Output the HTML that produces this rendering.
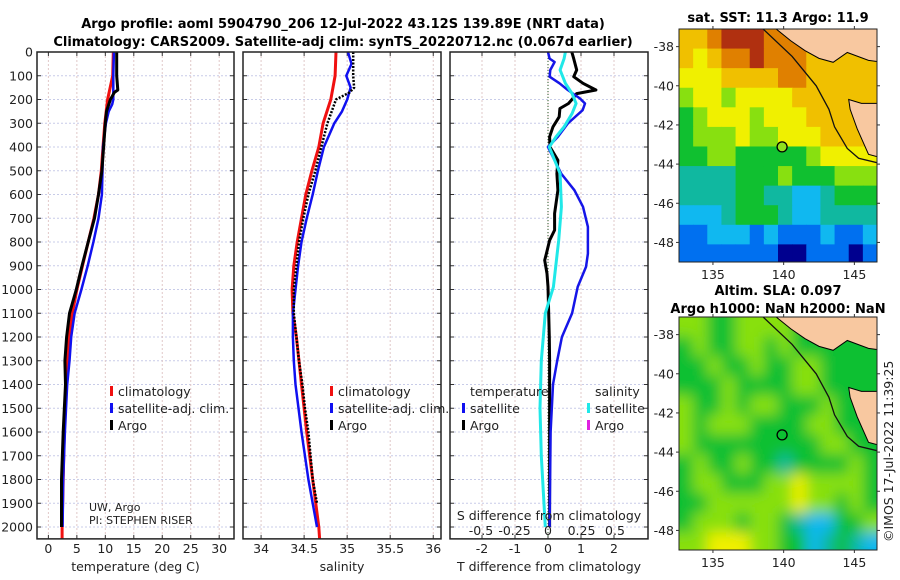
<!DOCTYPE html>
<html><head><meta charset="utf-8"><style>
body{margin:0;background:#fff;}
svg{display:block;font-family:"DejaVu Sans","Liberation Sans",sans-serif;}
</style></head><body>
<svg id="fig" width="900" height="580" viewBox="0 0 900 580" xmlns="http://www.w3.org/2000/svg">
<text x="343" y="28" font-size="13" font-weight="bold" text-anchor="middle">Argo profile: aoml 5904790_206 12-Jul-2022 43.12S 139.89E (NRT data)</text>
<text x="343" y="46" font-size="13" font-weight="bold" text-anchor="middle">Climatology: CARS2009. Satellite-adj clim: synTS_20220712.nc (0.067d earlier)</text>
<text x="778" y="22" font-size="13" font-weight="bold" text-anchor="middle">sat. SST: 11.3 Argo: 11.9</text>
<text x="778" y="295" font-size="13" font-weight="bold" text-anchor="middle">Altim. SLA: 0.097</text>
<text x="778" y="313" font-size="13" font-weight="bold" text-anchor="middle">Argo h1000: NaN h2000: NaN</text>
<text transform="translate(893,542) rotate(-90)" font-size="12.5" fill="#222">©IMOS 17-Jul-2022 11:39:25</text>
<g id="g"></g>
</svg>
<script>
// ---------- data ----------
const tempClimDepth=[0,100,200,300,400,500,600,700,800,900,1000,1100,1200,1300,1400,1600,1800,2000,2050];
const tempClim=[11.4,11.3,10.4,9.9,9.6,9.3,8.8,8.0,7.0,6.0,5.0,4.2,3.6,3.3,3.1,2.8,2.6,2.4,2.4];
const tempSatDepth=[0,100,200,220,250,300,400,500,600,700,800,900,1000,1100,1200,1300,1400,1600,1800,2000];
const tempSat=[11.5,11.4,11.4,11.2,10.6,10.1,9.6,9.5,9.4,8.8,7.9,6.9,5.8,4.6,4.0,3.7,3.3,2.9,2.6,2.5];
const tempArgoDepth=[0,100,160,170,200,250,300,400,500,600,700,800,900,1000,1100,1200,1300,1400,1600,1800,2000];
const tempArgo=[12.0,12.0,12.2,11.6,10.9,10.2,10.0,9.7,9.4,8.8,8.1,7.0,5.9,4.9,3.7,3.2,2.9,3.0,2.6,2.3,2.3];
const salClimDepth=[0,100,200,300,400,500,600,700,800,900,1000,1100,1200,1400,1600,1800,2000,2050];
const salClim=[34.87,34.86,34.81,34.72,34.67,34.59,34.52,34.47,34.42,34.38,34.36,34.37,34.41,34.47,34.53,34.6,34.67,34.68];
const salSatDepth=[0,50,100,150,200,250,300,400,500,600,700,800,900,1000,1100,1200,1300,1400,1600,1800,2000];
const salSat=[35.01,35.05,34.99,35.04,35.0,34.94,34.85,34.73,34.66,34.6,34.53,34.47,34.43,34.4,34.37,34.37,34.38,34.4,34.47,34.55,34.65];
const salArgoDepth=[0,100,150,170,200,300,400,500,600,700,800,900,1000,1100,1200,1300,1400,1500,1600,1800,1900];
const salArgo=[35.07,35.07,35.08,35.03,34.87,34.77,34.7,34.63,34.55,34.49,34.44,34.41,34.38,34.38,34.41,34.44,34.48,34.51,34.55,34.6,34.65];
const dTArgoDepth=[0,28,76,104,132,160,175,196,217,238,273,315,357,400,456,512,582,680,750,793,849,877,933,989,1100,1200,1300,1500,1700,1900,2000];
const dTArgo=[0.72,0.78,0.87,0.78,1.06,1.45,0.87,0.75,0.62,0.36,0.34,0.15,0.05,0.06,0.3,0.27,0.3,0.2,0.2,0.05,-0.05,-0.1,-0.03,0.0,0.02,0.04,0.05,0.05,0.05,0.05,0.05];
const dSSatDepth=[0,28,76,132,175,217,259,315,357,400,456,512,652,793,989,1100,1300,1500,1700,2000];
const dSSat=[0.13,0.12,0.09,0.13,0.18,0.21,0.18,0.12,0.06,0.01,0.05,0.09,0.10,0.08,0.04,-0.02,-0.05,-0.06,-0.05,-0.02];
const dTSatDepth=[0,28,42,76,104,132,160,196,217,245,301,357,400,456,512,582,652,736,849,905,989,1100,1200,1300,1400,1600,2000];
const dTSat=[0.0,0.05,0.2,0.07,0.05,0.35,0.6,0.97,1.12,1.05,0.6,0.3,0.0,0.2,0.4,0.8,1.06,1.21,1.21,1.15,0.9,0.73,0.42,0.28,0.15,0.08,0.05];
const depthTicks=[0,100,200,300,400,500,600,700,800,900,1000,1100,1200,1300,1400,1500,1600,1700,1800,1900,2000];
const tempTicks=[0,5,10,15,20,25,30];
const salTicks=[34,34.5,35,35.5,36];
const salTickLabels=["34","34.5","35","35.5","36"];
const dTTicks=[-2,-1,0,1,2];
const dSTicks=[-0.5,-0.25,0,0.25,0.5];
const dSTickLabels=["-0.5","-0.25","0","0.25","0.5"];
const latTicks=[-38,-40,-42,-44,-46,-48];
const lonTicks=[135,140,145];
// SST grid (colour index 0..9, -1 land), rows from lat -37.1 down, cols from lon 132.6, 1-degree cells
const sstGrid=[
[7,7,8,9,9,9,8,8,-1,-1,-1,-1,-1,-1],
[7,6,7,8,8,9,8,8,8,7,7,7,7,7],
[6,6,6,7,7,7,7,8,8,7,7,7,7,7],
[5,6,6,5,6,6,6,6,7,7,7,7,7,7],
[4,5,6,6,6,5,6,6,6,7,7,7,7,7],
[4,5,5,5,6,5,5,6,6,6,7,7,7,7],
[4,4,5,5,4,4,4,4,4,5,6,6,6,6],
[3,3,3,3,4,4,4,5,4,4,4,5,5,5],
[3,3,3,3,4,4,3,3,2,2,3,4,4,4],
[2,2,2,3,4,4,4,3,2,2,3,3,3,3],
[1,1,2,2,2,1,2,1,1,1,2,1,1,2],
[1,1,1,1,1,1,1,0,0,1,1,1,0,1]];
const slaGrid=[
[5,5,4,4,5,5,5,5,4,4,4,4,4,4],
[4,5,4,4,5,5,4,5,4,4,4,4,4,4],
[4,4,5,4,4,5,4,4,5,5,4,4,4,4],
[4,4,4,5,4,4,4,4,5,5,4,4,4,4],
[5,4,4,5,4,5,5,4,4,4,5,4,4,4],
[5,4,5,5,5,4,4,4,4,5,5,4,4,4],
[5,4,4,4,4,4,4,4,4,4,5,5,4,4],
[4,5,4,4,5,4,4,3,4,4,4,4,5,4],
[4,5,5,4,4,4,5,5,6,5,5,5,5,4],
[4,4,5,5,5,5,5,5,6,5,5,4,5,4],
[4,5,5,5,4,5,5,4,3,2,2,4,4,5],
[5,5,6,6,6,5,5,4,4,2,3,4,3,2]];
const argoLon=139.89, argoLat=-43.12;
const mainland=[[139.3,-37],[140.5,-37.7],[141.5,-38.2],[142.5,-38.6],[143.5,-38.8],[144.5,-38.3],[146,-38.7],[147,-38.8],[147,-37]];
const tasmania=[[144.6,-40.7],[145.5,-40.9],[147,-40.9],[147,-43.7],[146,-43.5],[145.2,-42.2],[144.7,-41.2]];
const shelf=[[138.4,-37],[140.6,-38.5],[142.3,-40],[143.2,-41.2],[143.6,-42.1],[144.5,-43.2],[145.3,-43.7],[147,-44]];
const cmap=['#00008f','#0070f0','#10b8f0','#10b8a0','#10c030','#88e010','#f0f000','#f0c000','#e08000','#b03010'];

// ---------- drawing ----------
const NS='http://www.w3.org/2000/svg', G=document.getElementById('g');
function el(t,a,p){const e=document.createElementNS(NS,t);for(const k in a)e.setAttribute(k,a[k]);(p||G).appendChild(e);return e;}
const y0=52, yPer=0.2375;
const yD=d=>y0+d*yPer;
const panels=[
 {x0:37,x1:234,lo:-2.0,hi:32.6,name:'temperature'},
 {x0:243,x1:441,lo:33.79,hi:36.09,name:'salinity'},
 {x0:450,x1:648,lo:-2.97,hi:3.03,name:'difference'}];
const sx=(p,v)=>p.x0+(v-p.lo)/(p.hi-p.lo)*(p.x1-p.x0);
const yBot=yD(2050);
function line(p,vals,deps,color,w,name,dash,scale){
 const pts=vals.map((v,i)=>(scale?scale(v):sx(p,v)).toFixed(1)+','+yD(deps[i]).toFixed(1)).join(' ');
 const e=el('polyline',{points:pts,fill:'none',stroke:color,'stroke-width':w,'stroke-linejoin':'round'});
 if(dash)e.setAttribute('stroke-dasharray',dash);
 
 
}
function grid(p,xs){
 const g=el('g',{});
 
 
 depthTicks.forEach(d=>{el('line',{x1:p.x0,x2:p.x1,y1:yD(d),y2:yD(d),stroke:'#c8cce8','stroke-width':1,'stroke-dasharray':'2,2'},g);
   el('line',{x1:p.x0,x2:p.x0+4,y1:yD(d),y2:yD(d),stroke:'#333'},g);el('line',{x1:p.x1,x2:p.x1-4,y1:yD(d),y2:yD(d),stroke:'#333'},g);});
 xs.forEach(x=>{el('line',{x1:x,x2:x,y1:y0,y2:yBot,stroke:'#e0c8c8','stroke-width':1,'stroke-dasharray':'2,2'},g);
   el('line',{x1:x,x2:x,y1:yBot,y2:yBot-4,stroke:'#333'},g);el('line',{x1:x,x2:x,y1:y0,y2:y0+4,stroke:'#333'},g);});
}
function frame(p){const r=el('rect',{x:p.x0,y:y0,width:p.x1-p.x0,height:yBot-y0,fill:'none',stroke:'#222','stroke-width':1.5});
 }
function txt(x,y,s,o){const e=el('text',Object.assign({x:x,y:y,'font-size':12.5,fill:'#222'},o||{}));e.textContent=s;return e;}

const P1=panels[0],P2=panels[1],P3=panels[2];
grid(P1,tempTicks.map(v=>sx(P1,v)));
grid(P2,salTicks.map(v=>sx(P2,v)));
const dTscale=v=>548+33*v, dSscale=v=>548+134*v;
grid(P3,dTTicks.map(dTscale));
depthTicks.forEach(d=>{const t=txt(33,yD(d)+4.5,String(d),{'text-anchor':'end'});
 });
tempTicks.forEach(v=>{const t=txt(sx(P1,v),553,String(v),{'text-anchor':'middle'});});
salTicks.forEach((v,i)=>{const t=txt(sx(P2,v),553,salTickLabels[i],{'text-anchor':'middle'});});
dTTicks.forEach(v=>{const t=txt(dTscale(v),553,String(v),{'text-anchor':'middle'});});
let t;
t=txt(135.5,571,'temperature (deg C)',{'text-anchor':'middle'});
t=txt(342,571,'salinity',{'text-anchor':'middle'});
t=txt(549,571,'T difference from climatology',{'text-anchor':'middle'});
el('line',{x1:548,x2:548,y1:y0,y2:yBot,stroke:'#2a5a2a','stroke-width':1,'stroke-dasharray':'1,2'});

line(P1,tempClim,tempClimDepth,'#f01010',3,'temp-climatology-line');
line(P1,tempSat,tempSatDepth,'#1010f0',2.5,'temp-satellite-line');
line(P1,tempArgo,tempArgoDepth,'#000',3,'temp-argo-line');
line(P2,salClim,salClimDepth,'#f01010',3,'sal-climatology-line');
line(P2,salSat,salSatDepth,'#1010f0',2.5,'sal-satellite-line');
line(P2,salArgo,salArgoDepth,'#000',2.5,'sal-argo-line','2,1.5');
line(P3,dTArgo,dTArgoDepth,'#000',3,'dt-argo-line',null,dTscale);
line(P3,dTSat,dTSatDepth,'#1515e8',2.5,'dt-satellite-line',null,dTscale);
line(P3,dSSat,dSSatDepth,'#20e8e8',3,'ds-satellite-line',null,dSscale);
panels.forEach(frame);

t=txt(549,520,'S difference from climatology',{'text-anchor':'middle','font-size':12.5});
dSTicks.forEach((v,i)=>{const e=txt(dSscale(v),535,dSTickLabels[i],{'text-anchor':'middle'});});

function legendEntry(x,y,color,label,name){
 const g=el('g',{});
 el('rect',{x:x,y:y-10,width:3,height:10,fill:color},g);
 const e=el('text',{x:x+8,y:y,'font-size':12.5,fill:'#222'},g);e.textContent=label;}
legendEntry(110,396,'#f01010','climatology','legend-temp-climatology');
legendEntry(110,413,'#1010f0','satellite-adj. clim.','legend-temp-satellite');
legendEntry(110,430,'#000','Argo','legend-temp-argo');
legendEntry(330,396,'#f01010','climatology','legend-sal-climatology');
legendEntry(330,413,'#1010f0','satellite-adj. clim.','legend-sal-satellite');
legendEntry(330,430,'#000','Argo','legend-sal-argo');
t=txt(470,396,'temperature');
t=txt(595,396,'salinity');
legendEntry(462,413,'#1010f0','satellite','legend-dt-satellite');
legendEntry(462,430,'#000','Argo','legend-dt-argo');
legendEntry(587,413,'#20e8e8','satellite','legend-ds-satellite');
legendEntry(587,430,'#e020e0','Argo','legend-ds-argo');
t=txt(89,511,'UW, Argo',{'font-size':11});
t=txt(89,524,'PI: STEPHEN RISER',{'font-size':11});

// ---------- maps ----------
function map(top,gridData,name,blur,landCol){
 const M={x0:679,x1:877,y0:top,y1:top+233,lonLo:132.6,lonHi:146.6,latHi:-37.1,latLo:-49};
 const mx=l=>M.x0+(l-M.lonLo)/(M.lonHi-M.lonLo)*(M.x1-M.x0);
 const my=l=>M.y0+(M.latHi-l)/(M.latHi-M.latLo)*(M.y1-M.y0);
 const g=el('g',{});
 const cid='clip'+top;
 const cp=el('clipPath',{id:cid},g);el('rect',{x:M.x0,y:M.y0,width:M.x1-M.x0,height:M.y1-M.y0},cp);
 if(blur){const f=el('filter',{id:'bl'+top,x:'-10%',y:'-10%',width:'120%',height:'120%'},g);el('feGaussianBlur',{stdDeviation:7},f);}
 const inner=el('g',{'clip-path':'url(#'+cid+')'},g);
 const cells=el('g',blur?{filter:'url(#bl'+top+')'}:{},inner);
 const nR=gridData.length,nC=gridData[0].length;
 gridData.forEach((row,r)=>row.forEach((v,c)=>{
   const lon=M.lonLo+c, lat=M.latHi-r;
   const col=v<0?landCol:cmap[Math.round(v)];
   let x=mx(lon),y=my(lat),w=mx(lon+1)-x+0.6,h=my(lat-1)-y+0.6;
   if(c===0){x-=20;w+=20;} if(c===nC-1)w+=20;
   if(r===0){y-=20;h+=20;} if(r===nR-1)h+=30;
   el('rect',{x:x,y:y,width:w,height:h,fill:col},cells);
 }));
 const poly=(pts,f,s)=>el('polygon',{points:pts.map(p=>mx(p[0])+','+my(p[1])).join(' '),fill:f,stroke:s,'stroke-width':1},inner);
 poly(mainland,'#f8c8a0','#000');
 poly(tasmania,'#f8c8a0','#000');
 el('polyline',{points:shelf.map(p=>mx(p[0])+','+my(p[1])).join(' '),fill:'none',stroke:'#111','stroke-width':1.3},inner);
 el('circle',{cx:mx(argoLon),cy:my(argoLat),r:5,fill:blur?'none':'#90e020',stroke:'#000','stroke-width':1.3},inner);
 el('rect',{x:M.x0,y:M.y0,width:M.x1-M.x0,height:M.y1-M.y0,fill:'none',stroke:'#222','stroke-width':1},g);
 latTicks.forEach(l=>{el('line',{x1:M.x0,x2:M.x0-3,y1:my(l),y2:my(l),stroke:'#333'},g);el('line',{x1:M.x1,x2:M.x1+3,y1:my(l),y2:my(l),stroke:'#333'},g);
   const e=el('text',{x:M.x0-5,y:my(l)+4.5,'font-size':12.5,fill:'#222','text-anchor':'end'},g);e.textContent=String(l);});
 lonTicks.forEach(l=>{el('line',{x1:mx(l),x2:mx(l),y1:M.y1,y2:M.y1+3,stroke:'#333'},g);el('line',{x1:mx(l),x2:mx(l),y1:M.y0,y2:M.y0-3,stroke:'#333'},g);
   const e=el('text',{x:mx(l),y:M.y1+17,'font-size':12.5,fill:'#222','text-anchor':'middle'},g);e.textContent=String(l);});
}
map(29,sstGrid,'sst-map',false,'#e08000');
map(317,slaGrid,'sla-map',true,'#88e010');
</script>
</body></html>
